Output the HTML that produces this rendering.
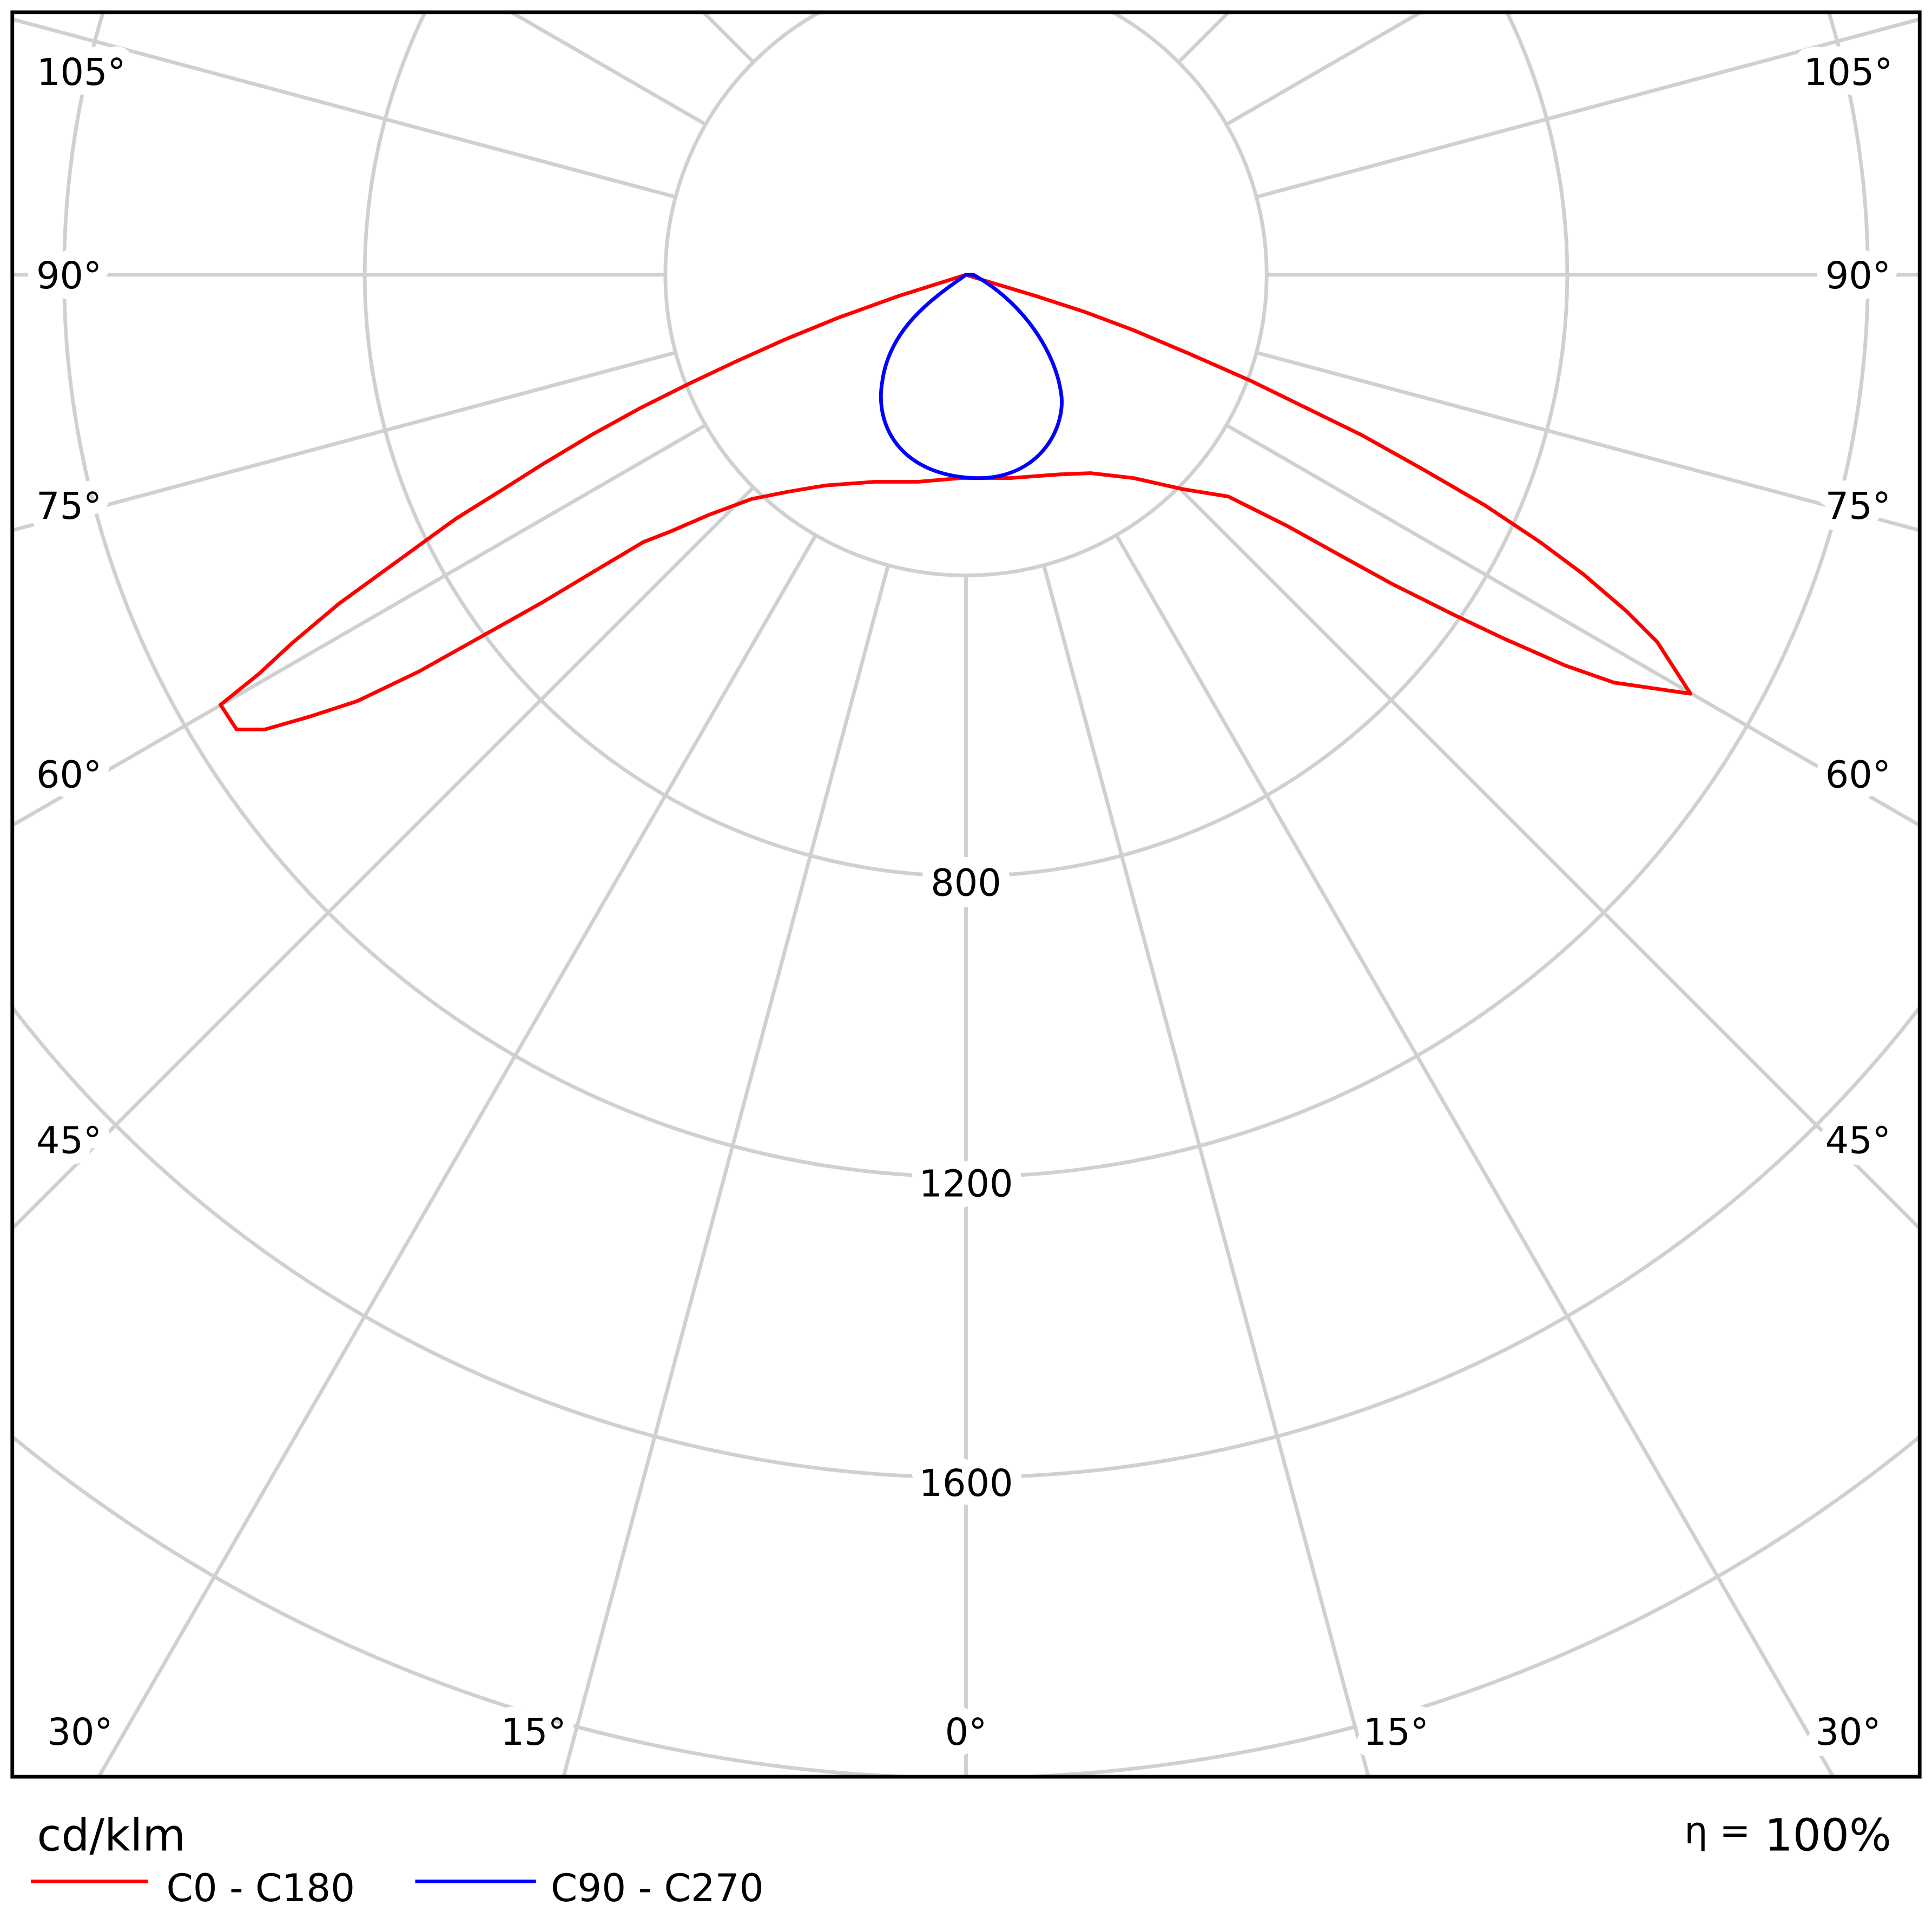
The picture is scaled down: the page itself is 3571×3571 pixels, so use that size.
<!DOCTYPE html>
<html><head><meta charset="utf-8"><style>html,body{margin:0;padding:0;background:#fff;overflow:hidden;width:3571px;height:3571px}svg{display:block}</style></head>
<body>
<svg width="3571" height="3571" viewBox="0 0 1568 1568" xmlns="http://www.w3.org/2000/svg" font-family="'DejaVu Sans','Liberation Sans',sans-serif">
<defs><clipPath id="c"><rect x="10" y="10" width="1548" height="1432"/></clipPath></defs>
<rect width="1568" height="1568" fill="#fff"/>
<g clip-path="url(#c)" stroke="#d0d0d0" stroke-width="3" fill="none">
<circle cx="784" cy="223" r="244"/>
<circle cx="784" cy="223" r="488"/>
<circle cx="784" cy="223" r="732"/>
<circle cx="784" cy="223" r="976"/>
<circle cx="784" cy="223" r="1220"/>
<g id="rl">
<line x1="784" y1="467" x2="784" y2="2500"/>
</g>
<use href="#rl" transform="rotate(15 784 223)"/>
<use href="#rl" transform="rotate(30 784 223)"/>
<use href="#rl" transform="rotate(45 784 223)"/>
<use href="#rl" transform="rotate(60 784 223)"/>
<use href="#rl" transform="rotate(75 784 223)"/>
<use href="#rl" transform="rotate(90 784 223)"/>
<use href="#rl" transform="rotate(105 784 223)"/>
<use href="#rl" transform="rotate(120 784 223)"/>
<use href="#rl" transform="rotate(135 784 223)"/>
<use href="#rl" transform="rotate(150 784 223)"/>
<use href="#rl" transform="rotate(165 784 223)"/>
<use href="#rl" transform="rotate(-15 784 223)"/>
<use href="#rl" transform="rotate(-30 784 223)"/>
<use href="#rl" transform="rotate(-45 784 223)"/>
<use href="#rl" transform="rotate(-60 784 223)"/>
<use href="#rl" transform="rotate(-75 784 223)"/>
<use href="#rl" transform="rotate(-90 784 223)"/>
<use href="#rl" transform="rotate(-105 784 223)"/>
<use href="#rl" transform="rotate(-120 784 223)"/>
<use href="#rl" transform="rotate(-135 784 223)"/>
<use href="#rl" transform="rotate(-150 784 223)"/>
<use href="#rl" transform="rotate(-165 784 223)"/>
</g>
<g font-size="30" fill="#000" text-anchor="middle" stroke="#fff" stroke-width="18" stroke-linejoin="round" paint-order="stroke">
<text x="784" y="727">800</text>
<text x="784" y="971">1200</text>
<text x="784" y="1214">1600</text>
<text x="66" y="69">105°</text><text x="1500" y="69">105°</text>
<text x="56" y="234">90°</text><text x="1508" y="234">90°</text>
<text x="56" y="421">75°</text><text x="1508" y="421">75°</text>
<text x="56" y="639">60°</text><text x="1508" y="639">60°</text>
<text x="56" y="936">45°</text><text x="1508" y="936">45°</text>
<text x="65" y="1416">30°</text><text x="1500" y="1416">30°</text>
<text x="433" y="1416">15°</text><text x="1133" y="1416">15°</text>
<text x="784" y="1416">0°</text>
</g>
<polyline fill="none" stroke="#ff0000" stroke-width="3" stroke-linejoin="round" points="784,223 730,240 680,258 636,276 596,294 558,312 520,331 480,353 440,377 410,396 370,421 330,450 275,490 237,522 210,547 179,572 192,592 215,592 250,582 290,569 340,545 390,517 440,489 480,465 522,440 545,431 575,418 610,405 640,399 670,394 710,391 745,391 780,388 820,388 860,385 885,384 920,388 960,397 997,403 1045,427 1090,452 1130,474 1180,499 1220,518 1270,540 1310,554 1372,563 1345,521 1320,496 1285,466 1250,440 1205,410 1155,381 1105,353 1060,331 1015,309 965,287 920,268 880,253 840,240 800,228 784,223"/>
<path fill="none" stroke="#0000ff" stroke-width="3" stroke-linejoin="round" d="M784,223 C760,240 722,265 716,310 C710,345 730,385 790,388 C845,390 866,345 861,318 C856,285 830,245 790,223 Z"/>
<rect x="10" y="10" width="1548" height="1432" fill="none" stroke="#000" stroke-width="3"/>
<text x="30" y="1502" font-size="36">cd/klm</text>
<text x="1535" y="1502" font-size="36" text-anchor="end"><tspan font-size="30" dy="-6">η =</tspan><tspan dy="6"> 100%</tspan></text>
<line x1="25" y1="1527" x2="120" y2="1527" stroke="#ff0000" stroke-width="3"/>
<text x="135" y="1543" font-size="31">C0 - C180</text>
<line x1="337" y1="1527" x2="435" y2="1527" stroke="#0000ff" stroke-width="3"/>
<text x="447" y="1543" font-size="31">C90 - C270</text>
</svg>
</body></html>
